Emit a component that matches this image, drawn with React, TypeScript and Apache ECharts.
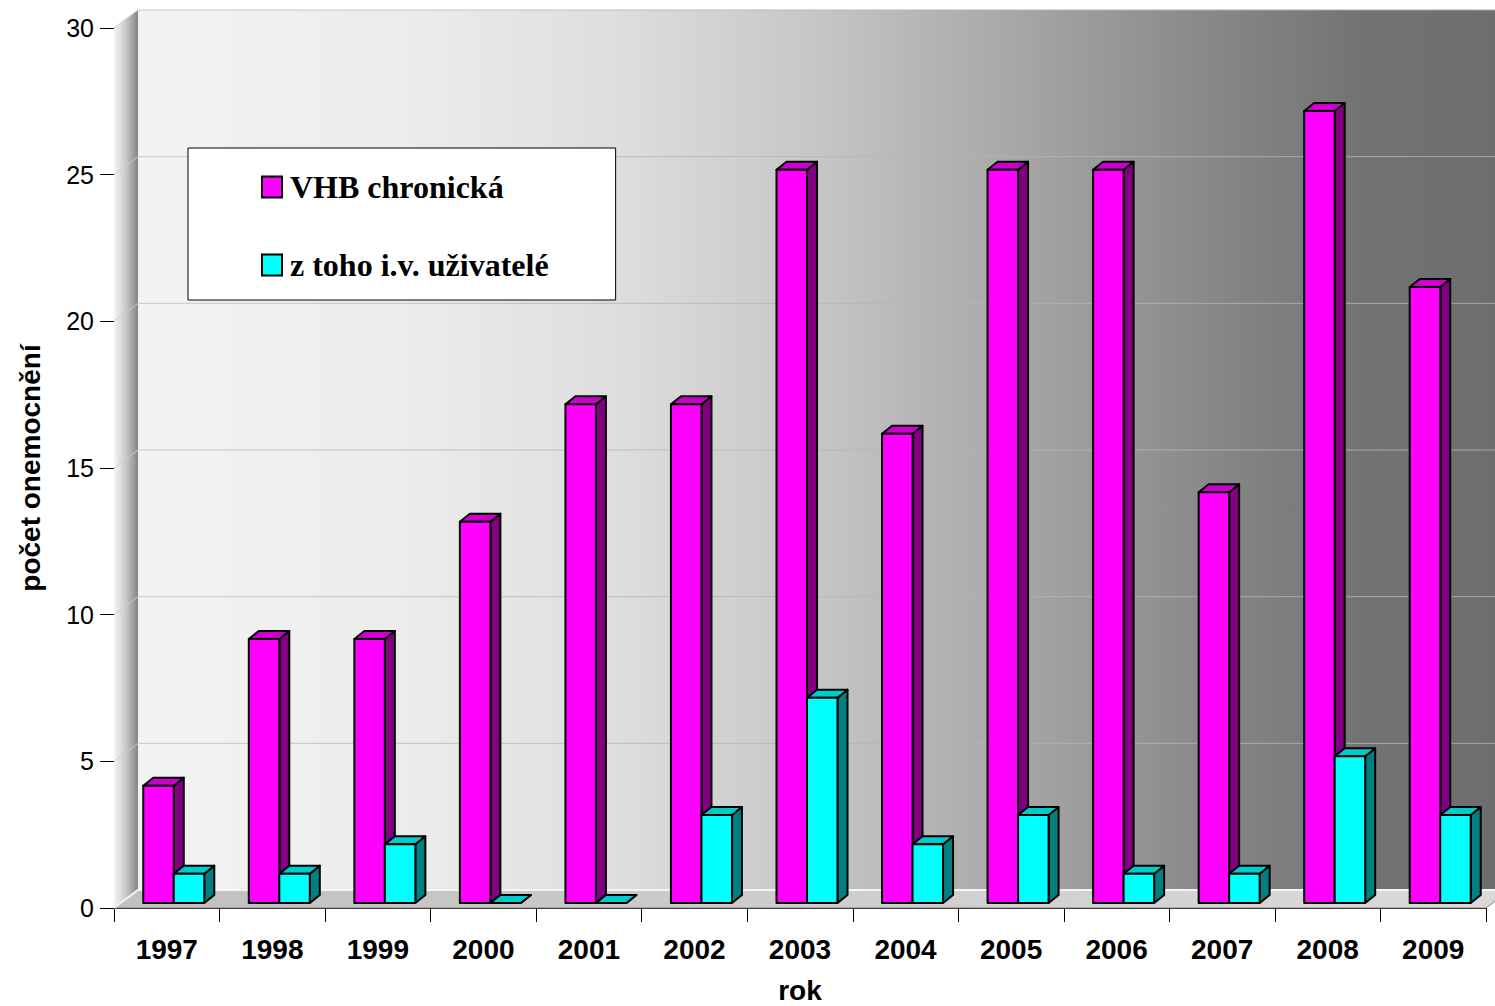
import React, { useEffect, useRef } from "react";
import * as echarts from "echarts";

const years = ["1997", "1998", "1999", "2000", "2001", "2002", "2003", "2004", "2005", "2006", "2007", "2008", "2009"];
const vhbChronic = [4, 9, 9, 13, 17, 17, 25, 16, 25, 25, 14, 27, 21];
const ivUsers = [1, 1, 2, 0, 0, 3, 7, 2, 3, 1, 1, 5, 3];
const yTicks = [0, 5, 10, 15, 20, 25, 30];

const seriesNames = ["VHB chronická", "z toho i.v. uživatelé"];
const faceColors = [
  { front: "#FF00FF", top: "#CC00CC", side: "#800080" },
  { front: "#00FFFF", top: "#00CCCC", side: "#008080" },
];

// 3D geometry
const WALL_DX = 24;
const WALL_DY = -18;
const BAR_SX = 7;
const BAR_SY = -5;
const BAR_DX = 10;
const BAR_DY = -8;

function makeBarRender(sIdx: number) {
  return (params: any, api: any) => {
    const idx = api.value(0);
    const val = api.value(1);
    const p0 = api.coord([idx, 0]);
    const p1 = api.coord([idx, val]);
    const catW = api.size([1, 0])[0];
    const bw = catW * 0.289;
    const xL = sIdx === 0 ? p0[0] + BAR_SX - bw : p0[0] + BAR_SX;
    const yB = p0[1] + BAR_SY;
    const yT = p1[1] + BAR_SY;
    const c = faceColors[sIdx];
    const st = { stroke: "#000", lineWidth: 2, lineJoin: "round" };
    return {
      type: "group",
      children: [
        {
          type: "polygon",
          shape: {
            points: [
              [xL + bw, yT],
              [xL + bw + BAR_DX, yT + BAR_DY],
              [xL + bw + BAR_DX, yB + BAR_DY],
              [xL + bw, yB],
            ],
          },
          style: { ...st, fill: c.side },
        },
        {
          type: "polygon",
          shape: {
            points: [
              [xL, yT],
              [xL + BAR_DX, yT + BAR_DY],
              [xL + bw + BAR_DX, yT + BAR_DY],
              [xL + bw, yT],
            ],
          },
          style: { ...st, fill: c.top },
        },
        {
          type: "rect",
          shape: { x: xL, y: yT, width: bw, height: Math.max(yB - yT, 0) },
          style: { ...st, fill: c.front },
        },
      ],
    };
  };
}

function renderWalls(params: any, api: any) {
  const n = years.length;
  const catW = api.size([1, 0])[0];
  const pL0 = api.coord([0, 0]);
  const left = pL0[0] - catW / 2;
  const right = api.coord([n - 1, 0])[0] + catW / 2;
  const bottom = pL0[1];
  const top = api.coord([0, 30])[1];
  const W = api.getWidth();
  const children: any[] = [];
  // back wall
  children.push({
    type: "rect",
    shape: { x: left + WALL_DX, y: top + WALL_DY, width: W - (left + WALL_DX), height: bottom - top },
    style: {
      fill: new echarts.graphic.LinearGradient(0, 0, 1, 0, [
        { offset: 0, color: "#f3f3f3" },
        { offset: 0.2, color: "#ececec" },
        { offset: 0.35, color: "#dedede" },
        { offset: 0.5, color: "#c6c6c6" },
        { offset: 0.65, color: "#a6a6a6" },
        { offset: 0.8, color: "#868686" },
        { offset: 0.9, color: "#737373" },
        { offset: 1, color: "#6e6e6e" },
      ]),
    },
  });
  // side wall
  children.push({
    type: "polygon",
    shape: {
      points: [
        [left, top],
        [left + WALL_DX, top + WALL_DY],
        [left + WALL_DX, bottom + WALL_DY],
        [left, bottom],
      ],
    },
    style: {
      fill: new echarts.graphic.LinearGradient(0, 0, 1, 0, [
        { offset: 0, color: "#f6f6f6" },
        { offset: 0.5, color: "#c8c8c8" },
        { offset: 1, color: "#858585" },
      ]),
    },
  });
  // floor
  children.push({
    type: "polygon",
    shape: {
      points: [
        [left, bottom],
        [left + WALL_DX, bottom + WALL_DY],
        [right + WALL_DX, bottom + WALL_DY],
        [right, bottom],
      ],
    },
    style: {
      fill: new echarts.graphic.LinearGradient(0, 0, 1, 0, [
        { offset: 0, color: "#c0c0c0" },
        { offset: 1, color: "#dadada" },
      ]),
      stroke: "#808080",
      lineWidth: 1,
    },
  });
  // gridlines
  yTicks.forEach((v) => {
    const y = api.coord([0, v])[1];
    const gridStroke =
      v === 0
        ? "#f4f4f4"
        : new echarts.graphic.LinearGradient(0, 0, 1, 0, [
            { offset: 0, color: "#cccccc" },
            { offset: 1, color: "#a4a4a4" },
          ]);
    children.push({
      type: "polyline",
      shape: {
        points: [
          [left, y],
          [left + WALL_DX, y + WALL_DY],
          [W, y + WALL_DY],
        ],
      },
      style: { stroke: gridStroke, lineWidth: v === 0 ? 2 : 1, fill: "none" },
    });
  });
  return { type: "group", children };
}

export default function App() {
  const ref = useRef<HTMLDivElement>(null);
  useEffect(() => {
    if (!ref.current) return;
    const chart = echarts.init(ref.current, undefined, { renderer: "svg" });
    const sansFont = "'Liberation Sans', Arial, sans-serif";
    chart.setOption({
      animation: false,
      backgroundColor: "#ffffff",
      grid: { left: 114, right: 9, top: 28, bottom: 98, outerBoundsMode: "none", containLabel: false },
      legend: {
        show: true,
        data: seriesNames,
        orient: "vertical",
        left: 188,
        top: 148,
        backgroundColor: "#ffffff",
        borderColor: "#000000",
        borderWidth: 1,
        padding: [23, 67, 19, 73],
        itemGap: 46,
        itemWidth: 20,
        itemHeight: 21,
        icon: "rect",
        itemStyle: { borderColor: "#000", borderWidth: 2 },
        textStyle: {
          fontFamily: "'Liberation Serif', 'Times New Roman', serif",
          fontWeight: "bold",
          fontSize: 32,
          color: "#000",
          padding: [0, 0, 0, 3],
        },
        selectedMode: false,
      },
      xAxis: {
        type: "category",
        data: years,
        boundaryGap: true,
        name: "rok",
        nameLocation: "middle",
        nameGap: 68,
        nameTextStyle: { fontFamily: sansFont, fontWeight: "bold", fontSize: 28, color: "#000" },
        axisLine: { show: true, lineStyle: { color: "#000", width: 1 } },
        axisTick: { show: true, length: 14, lineStyle: { color: "#000", width: 1 } },
        axisLabel: { fontFamily: sansFont, fontWeight: "bold", fontSize: 28, color: "#000", margin: 27 },
        splitLine: { show: false },
      },
      yAxis: {
        type: "value",
        min: 0,
        max: 30,
        interval: 5,
        name: "počet onemocnění",
        nameLocation: "middle",
        nameGap: 70,
        nameTextStyle: { fontFamily: sansFont, fontWeight: "bold", fontSize: 28, color: "#000" },
        axisLine: { show: true, lineStyle: { color: "#000", width: 1 } },
        axisTick: { show: true, length: 14, lineStyle: { color: "#000", width: 1 } },
        axisLabel: { fontFamily: sansFont, fontSize: 25, color: "#000", margin: 20 },
        splitLine: { show: false },
      },
      series: [
        {
          type: "custom",
          name: "walls",
          silent: true,
          clip: false,
          z: 1,
          renderItem: renderWalls,
          data: [[0, 0]],
        },
        {
          type: "custom",
          name: seriesNames[0],
          clip: false,
          z: 2,
          itemStyle: { color: faceColors[0].front },
          renderItem: makeBarRender(0),
          data: vhbChronic.map((v, i) => [i, v]),
        },
        {
          type: "custom",
          name: seriesNames[1],
          clip: false,
          z: 3,
          itemStyle: { color: faceColors[1].front },
          renderItem: makeBarRender(1),
          data: ivUsers.map((v, i) => [i, v]),
        },
      ],
    });
    return () => chart.dispose();
  }, []);
  return (
    <div
      ref={ref}
      style={{ position: "absolute", left: 0, top: 0, width: 1495, height: 1006 }}
    />
  );
}
